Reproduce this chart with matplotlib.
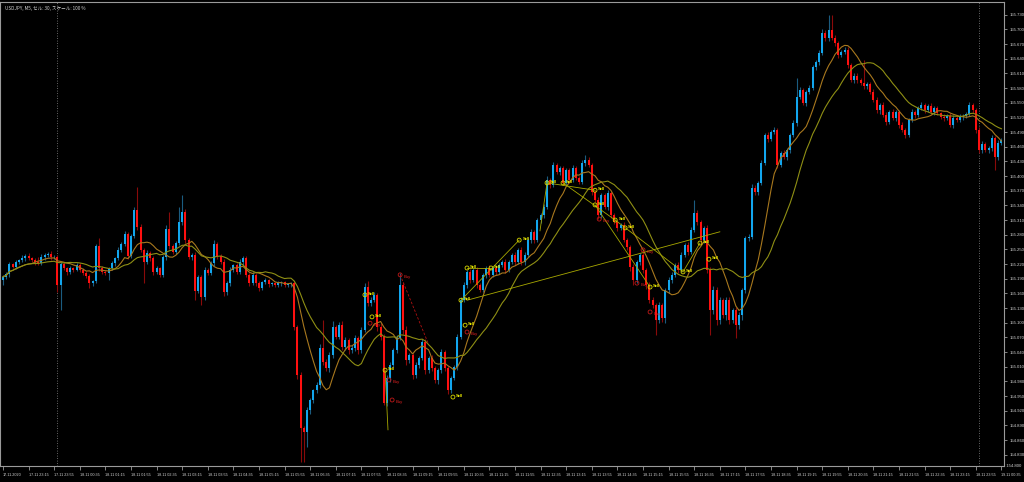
import matplotlib
matplotlib.use("Agg")
import matplotlib.pyplot as plt
import numpy as np
import pandas as pd

TITLE = "USDJPY, M5, セル: 30, スケール: 100 %"
START = "2020-11-17 22:35"

first_open = 155.187
closes = [
    155.194, 155.200, 155.220, 155.214, 155.224, 155.228, 155.232, 155.237, 155.232, 155.228,
    155.224, 155.222, 155.234, 155.239, 155.241, 155.234, 155.235, 155.177, 155.220, 155.212,
    155.204, 155.212, 155.208, 155.218, 155.208, 155.202, 155.196, 155.181, 155.185, 155.257,
    155.212, 155.204, 155.202, 155.212, 155.222, 155.232, 155.249, 155.261, 155.281, 155.237,
    155.277, 155.331, 155.296, 155.249, 155.224, 155.243, 155.232, 155.204, 155.212, 155.198,
    155.234, 155.292, 155.257, 155.245, 155.263, 155.306, 155.326, 155.269, 155.234, 155.239,
    155.165, 155.194, 155.153, 155.208, 155.202, 155.222, 155.261, 155.237, 155.224, 155.163,
    155.181, 155.208, 155.218, 155.204, 155.224, 155.232, 155.198, 155.181, 155.198, 155.181,
    155.171, 155.183, 155.187, 155.179, 155.181, 155.177, 155.181, 155.183, 155.177, 155.179,
    155.181, 155.091, 154.993, 154.885, 154.877, 154.922, 154.942, 154.962, 154.973, 155.048,
    155.020, 155.007, 155.034, 155.091, 155.071, 155.095, 155.050, 155.065, 155.044, 155.048,
    155.069, 155.044, 155.085, 155.173, 155.140, 155.147, 155.157, 155.091, 155.071, 154.936,
    154.987, 155.014, 155.044, 155.069, 155.177, 155.085, 155.024, 155.034, 154.993, 155.014,
    155.028, 155.061, 155.003, 155.028, 155.007, 154.983, 155.003, 155.040, 155.007, 154.962,
    154.987, 155.010, 155.071, 155.147, 155.177, 155.204, 155.187, 155.208, 155.177, 155.167,
    155.198, 155.212, 155.198, 155.212, 155.204, 155.218, 155.224, 155.208, 155.224, 155.239,
    155.224, 155.249, 155.224, 155.239, 155.269, 155.286, 155.269, 155.310, 155.320, 155.337,
    155.392, 155.382, 155.423, 155.408, 155.416, 155.386, 155.412, 155.392, 155.416, 155.396,
    155.388, 155.427, 155.433, 155.423, 155.367, 155.351, 155.320, 155.361, 155.337, 155.365,
    155.320, 155.306, 155.294, 155.300, 155.269, 155.255, 155.214, 155.187, 155.224, 155.239,
    155.208, 155.177, 155.147, 155.136, 155.106, 155.136, 155.110, 155.167, 155.187, 155.198,
    155.218, 155.208, 155.239, 155.259, 155.245, 155.290, 155.324, 155.306, 155.269, 155.294,
    155.208, 155.126, 155.167, 155.106, 155.147, 155.116, 155.147, 155.106, 155.126, 155.095,
    155.116, 155.167, 155.273, 155.275, 155.376, 155.367, 155.386, 155.427, 155.484, 155.476,
    155.490, 155.494, 155.423, 155.447, 155.439, 155.453, 155.484, 155.509, 155.562, 155.576,
    155.549, 155.572, 155.580, 155.623, 155.633, 155.652, 155.693, 155.682, 155.699, 155.682,
    155.672, 155.648, 155.654, 155.658, 155.627, 155.596, 155.605, 155.596, 155.590, 155.584,
    155.588, 155.572, 155.556, 155.535, 155.545, 155.525, 155.511, 155.531, 155.519, 155.531,
    155.504, 155.494, 155.484, 155.515, 155.531, 155.525, 155.539, 155.545, 155.535, 155.543,
    155.531, 155.539, 155.529, 155.521, 155.519, 155.523, 155.504, 155.519, 155.515, 155.521,
    155.523, 155.527, 155.545, 155.535, 155.494, 155.453, 155.466, 155.453, 155.457, 155.478,
    155.439, 155.468, 155.474,
]

# wick lengths above / below the body, in points (0.001)
wick_up = [
    4, 3, 5, 3, 4, 3, 6, 4, 5, 3, 4, 10, 6, 4, 3, 5, 3, 3, 4, 5,
    3, 4, 3, 5, 4, 3, 4, 3, 2, 4, 16, 4, 3, 3, 4, 3, 5, 4, 6, 5,
    5, 6, 47, 5, 4, 6, 3, 5, 4, 3, 5, 8, 35, 4, 5, 31, 35, 6, 4, 3,
    5, 4, 3, 6, 4, 5, 8, 4, 3, 6, 4, 5, 3, 4, 6, 5, 4, 3, 5, 3,
    4, 3, 4, 3, 2, 3, 4, 3, 3, 2, 3, 4, 5, 6, 4, 5, 4, 3, 5, 8,
    57, 5, 6, 12, 5, 6, 8, 5, 4, 6, 5, 4, 6, 8, 12, 6, 5, 4, 8, 5,
    6, 5, 4, 6, 25, 6, 8, 5, 4, 6, 5, 6, 5, 4, 6, 5, 4, 6, 5, 4,
    5, 4, 6, 5, 6, 4, 5, 4, 6, 5, 4, 5, 6, 4, 3, 5, 4, 6, 5, 4,
    5, 4, 6, 5, 4, 6, 4, 5, 4, 6, 8, 5, 6, 4, 5, 4, 5, 4, 6, 4,
    5, 6, 10, 6, 4, 5, 6, 5, 4, 6, 5, 4, 5, 4, 6, 5, 4, 6, 5, 4,
    5, 4, 6, 5, 4, 6, 5, 4, 6, 5, 4, 6, 5, 4, 6, 5, 27, 6, 5, 4,
    6, 5, 8, 6, 5, 4, 6, 5, 4, 6, 5, 4, 5, 6, 8, 5, 4, 6, 5, 6,
    5, 6, 4, 5, 6, 4, 5, 6, 39, 6, 5, 4, 6, 5, 4, 6, 8, 5, 31, 31,
    6, 5, 4, 6, 5, 4, 6, 5, 4, 47, 5, 4, 6, 5, 4, 6, 5, 4, 6, 5,
    4, 6, 5, 4, 6, 5, 4, 6, 5, 4, 6, 5, 4, 3, 5, 4, 6, 5, 4, 5,
    4, 5, 6, 5, 4, 6, 5, 4, 5, 6, 4, 5, 4,
]
wick_dn = [
    10, 4, 6, 3, 5, 4, 3, 5, 4, 3, 5, 4, 3, 6, 4, 5, 4, 14, 51, 5,
    6, 4, 5, 3, 4, 5, 4, 10, 5, 4, 6, 4, 5, 14, 4, 5, 3, 4, 5, 6,
    5, 4, 6, 5, 43, 4, 5, 6, 4, 5, 4, 5, 6, 4, 5, 4, 6, 5, 4, 5,
    18, 5, 16, 6, 5, 4, 5, 6, 4, 8, 6, 5, 4, 5, 4, 6, 5, 6, 4, 5,
    6, 5, 4, 5, 4, 3, 4, 5, 3, 4, 5, 6, 8, 70, 61, 31, 8, 6, 5, 6,
    6, 5, 8, 6, 5, 4, 6, 5, 8, 6, 5, 8, 6, 4, 5, 6, 5, 8, 6, 4,
    6, 8, 5, 6, 4, 8, 10, 6, 8, 5, 6, 5, 8, 6, 5, 6, 8, 5, 6, 8,
    6, 5, 6, 4, 5, 6, 5, 4, 6, 5, 4, 6, 5, 4, 6, 5, 4, 6, 5, 4,
    5, 4, 6, 5, 4, 6, 5, 4, 6, 5, 4, 6, 5, 4, 6, 5, 4, 6, 5, 4,
    5, 4, 6, 5, 6, 5, 8, 5, 4, 6, 5, 4, 6, 5, 4, 6, 8, 10, 6, 5,
    6, 8, 6, 5, 31, 6, 8, 10, 6, 5, 4, 6, 5, 4, 6, 5, 4, 6, 8, 5,
    6, 51, 8, 10, 8, 6, 10, 8, 6, 27, 8, 10, 6, 5, 4, 5, 6, 4, 5, 6,
    5, 4, 6, 5, 4, 6, 5, 4, 6, 5, 4, 6, 5, 4, 6, 5, 4, 6, 5, 4,
    5, 6, 4, 5, 6, 4, 5, 6, 4, 5, 6, 4, 5, 6, 8, 5, 6, 4, 5, 6,
    5, 4, 6, 5, 4, 6, 5, 4, 6, 5, 4, 6, 5, 4, 6, 5, 4, 6, 5, 4,
    6, 5, 4, 6, 5, 6, 5, 4, 6, 5, 27, 6, 4,
]

# trade history marks: (bar, price)
sell_marks = [
    (113.1, 155.157), (115.3, 155.112), (119.4, 155.003), (140.6, 154.948),
    (143.1, 155.146), (145.0, 155.212), (152.5, 155.212), (161.3, 155.269),
    (170.0, 155.386), (175.0, 155.386), (185.0, 155.371), (185.0, 155.341),
    (191.3, 155.310), (194.4, 155.294), (202.2, 155.173), (212.5, 155.204),
    (217.8, 155.263), (220.6, 155.230), (144.4, 155.095),
]
buy_marks = [
    (124.1, 155.198), (114.7, 155.099), (120.6, 154.983), (121.6, 154.942),
    (186.3, 155.312), (198.1, 155.181), (200.0, 155.249), (202.2, 155.122),
    (145.0, 155.081),
]
# lines joining open and close of trades: (bar1, price1, bar2, price2)
trade_lines_yellow = [
    (119.4, 155.003, 120.3, 154.881),
    (143.1, 155.146, 161.3, 155.269),
    (145.0, 155.212, 152.5, 155.212),
    (145.0, 155.146, 224.0, 155.286),
    (170.0, 155.386, 185.0, 155.371),
    (175.0, 155.386, 191.3, 155.310),
    (185.0, 155.341, 202.2, 155.173),
    (191.3, 155.310, 212.5, 155.204),
    (212.5, 155.204, 217.8, 155.263),
    (167.8, 155.288, 170.0, 155.386),
]
trade_lines_red = [
    (124.1, 155.198, 132.8, 155.059),
]

closes = np.array(closes)
assert len(closes) == len(wick_up) == len(wick_dn), (len(closes), len(wick_up), len(wick_dn))
opens = np.concatenate([[first_open], closes[:-1]])
highs = np.maximum(opens, closes) + np.array(wick_up) * 0.001
lows = np.minimum(opens, closes) - np.array(wick_dn) * 0.001
idx = np.arange(len(closes))
times = pd.date_range(START, periods=len(closes), freq="5min")

ma_fast = pd.Series(closes).rolling(10, min_periods=1).mean()
ma_slow = pd.Series(closes).rolling(20, min_periods=1).mean()

BULL = "#12A6EE"
BEAR = "#FF1010"
BULL_WICK = "#1B5C80"
BEAR_WICK = "#8A0A0A"
GRID = "#9a9a9a"
TXT = "#d4d4d4"
FONT = "Liberation Sans"

fig = plt.figure(figsize=(10.24, 4.82), dpi=100, facecolor="black")
ax = fig.add_axes([0, 16 / 482, 1004 / 1024, 464 / 482])
ax.set_facecolor("black")

up = closes >= opens
ax.vlines(idx, lows, highs, colors=np.where(up, BULL_WICK, BEAR_WICK), lw=0.8, zorder=2)
body = np.maximum(np.abs(closes - opens), 0.0008)
ax.bar(idx, body, bottom=np.minimum(opens, closes), width=0.62,
       color=np.where(up, BULL, BEAR), linewidth=0, zorder=3)

ax.plot(idx, ma_fast, color="#A8781E", lw=0.8, zorder=4)
ax.plot(idx, ma_slow, color="#8F8F14", lw=0.8, zorder=4)

for b1, p1, b2, p2 in trade_lines_yellow:
    ax.plot([b1, b2], [p1, p2], color="#A8A800", lw=0.6, zorder=5)
for b1, p1, b2, p2 in trade_lines_red:
    ax.plot([b1, b2], [p1, p2], color="#B01010", lw=0.6, ls=(0, (3, 2)), zorder=5)

for b, p in sell_marks:
    ax.scatter([b], [p], s=8, facecolors="none", edgecolors="#D8D800", linewidths=0.6, zorder=6)
    ax.text(b + 1.0, p + 0.002, "Sell", color="#E8E800", fontsize=3.0, fontweight="bold",
            family=FONT, va="center", ha="left", zorder=6)
for b, p in buy_marks:
    ax.scatter([b], [p], s=8, facecolors="none", edgecolors="#C01818", linewidths=0.6, zorder=6)
    ax.text(b + 1.0, p - 0.004, "Buy", color="#E02020", fontsize=3.0,
            family=FONT, va="center", ha="left", zorder=6)

# day separators
for b in [17, 305]:
    ax.axvline(b, color="#8a8a8a", lw=0.6, ls=(0, (1, 2)), zorder=1)

ax.set_xlim(-0.94, 312.8)
ax.set_ylim(154.807, 155.756)

for s in ax.spines.values():
    s.set_color(GRID)
    s.set_linewidth(0.8)

yt = np.round(np.arange(154.830, 155.7301, 0.030), 3)
ax.yaxis.tick_right()
ax.set_yticks(yt)
ax.set_yticklabels([f"{v:.3f}" for v in yt], family=FONT)
ax.tick_params(axis="y", colors=GRID, labelcolor=TXT, labelsize=3.1, length=2.5, width=0.6, pad=1.5)
ax.text(1.0, 0.0, "  154.800", transform=ax.transAxes, color=TXT, fontsize=3.1,
        family=FONT, ha="left", va="center", clip_on=False)

xt = idx[::8]
xlabels = [times[0].strftime("%d.%m.%Y")] + [t.strftime("%d.%m %H:%M") for t in times[8::8]]
ax.set_xticks(xt)
ax.set_xticklabels(xlabels, ha="left", family=FONT)
ax.tick_params(axis="x", colors=GRID, labelcolor=TXT, labelsize=2.7, length=3, width=0.6, pad=2)

fig.text(5 / 1024, 1 - 8 / 482, TITLE, color=TXT, fontsize=3.3, va="center", ha="left",
         family=["Noto Sans CJK JP", "DejaVu Sans"])

fig.savefig("out.png", dpi=100, facecolor="black")
